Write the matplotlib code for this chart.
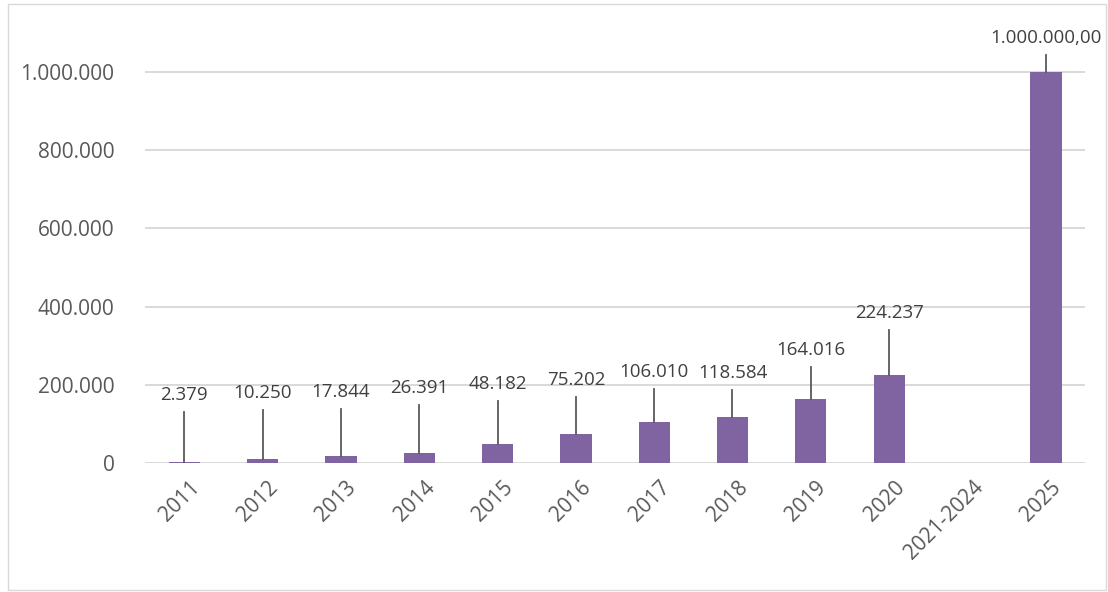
import matplotlib
matplotlib.use("Agg")
import matplotlib.pyplot as plt
import matplotlib.transforms as mtrans
from matplotlib.patches import Rectangle
import numpy as np

# yearly totals, the 2021-2024 slot is left empty
categories = ["2011", "2012", "2013", "2014", "2015", "2016", "2017",
              "2018", "2019", "2020", "2021-2024", "2025"]
values = [2379, 10250, 17844, 26391, 48182, 75202, 106010,
          118584, 164016, 224237, np.nan, 1000000]
label_decimals = [0, 0, 0, 0, 0, 0, 0, 0, 0, 0, 0, 2]

# heights (data units) where each value label sits
label_heights = [174000, 179000, 182000, 192000, 202000, 212000, 233000,
                 230000, 289000, 384000, np.nan, 1087000]

bar_color = "#8064A2"
grid_color = "#D9D9D9"
text_color = "#595959"
label_color = "#404040"


def fmt_num(v, decimals=0):
    """Number with dot thousands separator and comma decimals."""
    s = f"{v:,.{decimals}f}"
    return s.replace(",", "X").replace(".", ",").replace("X", ".")


plt.rcParams["font.family"] = ["Open Sans", "DejaVu Sans"]

fig = plt.figure(figsize=(11.08, 5.92), dpi=100)
fig.patches.append(Rectangle((8 / 1108, 2 / 592), 1098 / 1108, 586 / 592,
                             transform=fig.transFigure, fill=False,
                             edgecolor="#D9D9D9", linewidth=1))

ax = fig.add_axes([145 / 1108, 1 - 463 / 592, 940 / 1108, 443 / 592])
x = np.arange(len(categories))
ax.bar(x, values, width=0.4, color=bar_color, zorder=3)

ax.set_xlim(-0.5, len(categories) - 0.5)
ax.set_ylim(0, 1000000 * 443 / 391)
ax.set_yticks(np.arange(0, 1000001, 200000))
ax.set_yticklabels([fmt_num(t) for t in np.arange(0, 1000001, 200000)],
                   fontsize=15, color=text_color)
ax.yaxis.grid(True, color=grid_color, linewidth=1.4, zorder=0)
ax.tick_params(axis="y", length=0, pad=22)
ax.tick_params(axis="x", length=0, pad=10)
ax.set_xticks(x)
ax.set_xticklabels(categories, fontsize=15, color=text_color, rotation=45,
                   ha="right", va="top", rotation_mode="anchor")
# nudge the slanted year labels a little to the right
shift = mtrans.ScaledTranslation(5 / 100, 0, fig.dpi_scale_trans)
for lbl in ax.get_xticklabels():
    lbl.set_transform(lbl.get_transform() + shift)
for side in ["top", "right", "left", "bottom"]:
    ax.spines[side].set_visible(False)

# value labels with leader lines down to the bar tops
gap = 43000
for xi, v, h, d in zip(x, values, label_heights, label_decimals):
    if np.isnan(v):
        continue
    ax.text(xi, h, fmt_num(v, d), ha="center", va="center",
            fontsize=13.5, color=label_color, clip_on=False, zorder=4)
    ax.plot([xi, xi], [v, h - gap], color="#595959", linewidth=1.3,
            zorder=4, clip_on=False)

fig.savefig("out.png", dpi=100)
